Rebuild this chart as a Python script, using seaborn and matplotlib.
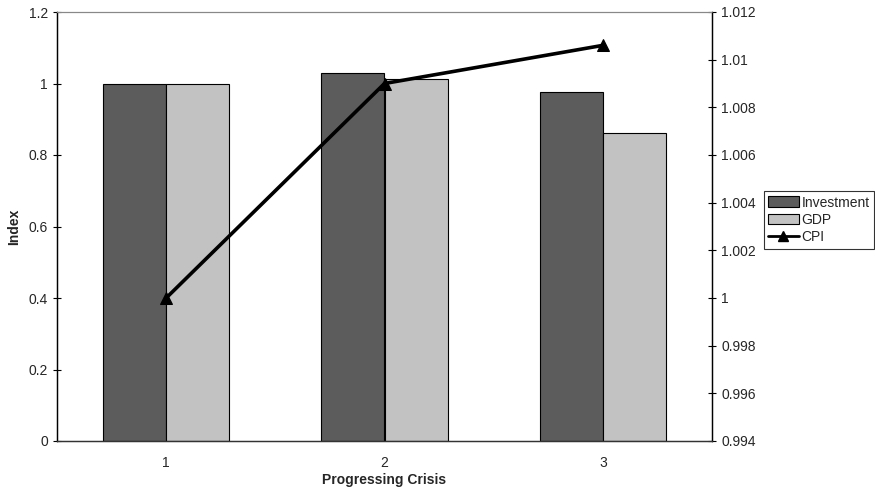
import matplotlib
matplotlib.use("Agg")
import matplotlib.pyplot as plt
import matplotlib.ticker as mticker
from matplotlib.lines import Line2D
from matplotlib.patches import Patch
import numpy as np
import pandas as pd
import seaborn as sns

categories = ["1", "2", "3"]
investment = [1.0, 1.03, 0.975]
gdp = [1.0, 1.013, 0.861]
cpi = [1.0, 1.009, 1.0106]
left_ticks = [0, 0.2, 0.4, 0.6, 0.8, 1.0, 1.2]
right_ticks = [0.994, 0.996, 0.998, 1.0, 1.002, 1.004, 1.006, 1.008, 1.01, 1.012]

sns.set_theme(style="white")
plt.rcParams['font.family'] = ['Liberation Sans', 'DejaVu Sans']

df = pd.DataFrame({
    "cat": categories * 2,
    "series": ["Investment"] * 3 + ["GDP"] * 3,
    "value": investment + gdp,
})

fig = plt.figure(figsize=(8.75, 4.93), dpi=100)
ax = fig.add_axes([57/875, 52/493, (712-57)/875, (441-12)/493])

inv_color = "#5c5c5c"
gdp_color = "#c2c2c2"
sns.barplot(data=df, x="cat", y="value", hue="series", order=categories,
            hue_order=["Investment", "GDP"],
            palette=[inv_color, gdp_color], width=0.58, gap=0,
            edgecolor="black", linewidth=0.8, ax=ax, legend=False)

ax.set_xlim(-0.5, len(categories) - 0.5)
ax.set_ylim(0, 1.2)
ax.set_yticks(left_ticks)
ax.yaxis.set_major_formatter(mticker.FuncFormatter(lambda v, p: f"{v:.1f}".rstrip('0').rstrip('.') if v != 0 else "0"))
ax.set_xlabel("Progressing Crisis", fontsize=10, fontweight="bold")
ax.set_ylabel("Index", fontsize=10, fontweight="bold")
ax.xaxis.set_label_coords(0.5, -0.075)
ax.yaxis.set_label_coords(-0.055, 0.5)

ax.set_xticks(np.arange(len(categories)))
ax.set_xticklabels(categories)
ax.set_xticks(np.arange(len(categories) + 1) - 0.5, minor=True)
ax.tick_params(axis="x", which="major", length=0, labelsize=10, pad=11)
ax.tick_params(axis="x", which="minor", length=6, direction="inout", width=0.8, color="black")
ax.tick_params(axis="y", length=6, direction="inout", width=0.8, labelsize=10, color="black", left=True)

ax2 = ax.twinx()
sns.lineplot(x=np.arange(len(categories)), y=cpi, ax=ax2, color="black",
             linewidth=2.6, marker="^", markersize=8, markeredgecolor="black")
ax2.set_ylim(0.994, 1.012)
ax2.set_yticks(right_ticks)
ax2.yaxis.set_major_formatter(mticker.FuncFormatter(lambda v, p: f"{v:.3f}".rstrip('0').rstrip('.')))
ax2.tick_params(axis="y", length=6, direction="inout", width=0.8, labelsize=10, color="black", right=True)
ax2.set_xlim(-0.5, len(categories) - 0.5)

for a in (ax, ax2):
    a.spines["left"].set_color("black")
    a.spines["right"].set_color("black")
    a.spines["left"].set_linewidth(0.9)
    a.spines["right"].set_linewidth(0.9)
    a.spines["top"].set_color("#888888")
    a.spines["top"].set_linestyle((0, (1, 1)))
    a.spines["top"].set_linewidth(0.8)
    a.spines["bottom"].set_color("#333333")
    a.spines["bottom"].set_linewidth(0.9)

handles = [
    Patch(facecolor=inv_color, edgecolor="black", linewidth=0.8, label="Investment"),
    Patch(facecolor=gdp_color, edgecolor="black", linewidth=0.8, label="GDP"),
    Line2D([0], [0], color="black", linewidth=2, marker="^", markersize=7, label="CPI"),
]
leg = fig.legend(handles=handles, loc="center left", bbox_to_anchor=(764/875, 1 - 220/493),
                 frameon=True, fancybox=False, shadow=False, fontsize=10,
                 handlelength=2.2, handleheight=0.8, handletextpad=0.2,
                 borderpad=0.3, labelspacing=0.25, borderaxespad=0)
leg.get_frame().set_edgecolor("black")
leg.get_frame().set_linewidth(0.8)

fig.savefig("out.png", dpi=100)
